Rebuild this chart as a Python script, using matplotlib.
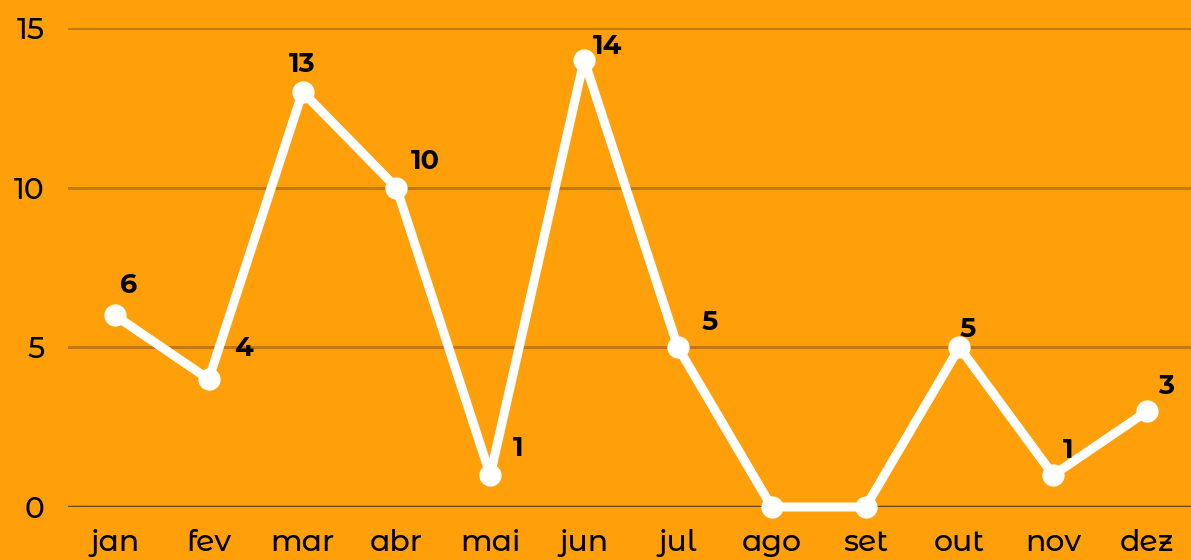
import matplotlib
matplotlib.use("Agg")
import matplotlib.pyplot as plt

# data
months = ["jan", "fev", "mar", "abr", "mai", "jun", "jul", "ago", "set", "out", "nov", "dez"]
values = [6, 4, 13, 10, 1, 14, 5, 0, 0, 5, 1, 3]
y_ticks = [0, 5, 10, 15]

# label offsets in points (right, up)
label_offsets = [(10, 22), (25, 22), (0, 20), (21, 19), (20, 19), (17, 10),
                 (23, 18), (0, 0), (0, 0), (6, 13), (11, 18), (14, 18)]

bg = "#FF9F0A"
plt.rcParams['font.family'] = ['Montserrat Alternates', 'DejaVu Sans']

fig = plt.figure(figsize=(11.91, 5.6), dpi=100, facecolor=bg)
ax = fig.add_axes([68 / 1191, 1 - 507 / 560, 1126 / 1191, (507 - 28) / 560])
ax.set_facecolor(bg)

x = list(range(len(months)))
ax.plot(x, values, color="white", lw=6.5, marker="o", markersize=15,
        solid_joinstyle="round", clip_on=False, zorder=3)

for i, v in enumerate(values):
    if v == 0:
        continue
    dx, dy = label_offsets[i]
    ax.annotate(str(v), (i, v), xytext=(dx, dy), textcoords="offset points",
                ha="center", va="center", fontsize=19.5, fontweight="bold",
                color="black", zorder=4)

ax.set_xlim(-0.5, len(months) - 0.5)
ax.set_ylim(0, 15)
ax.set_xticks(x)
ax.set_xticklabels(months)
ax.set_yticks(y_ticks)
ax.tick_params(axis="both", length=0, labelsize=21.5, colors="black")
for lab in ax.get_xticklabels() + ax.get_yticklabels():
    lab.set_fontweight(500)
ax.tick_params(axis="x", pad=16)
ax.tick_params(axis="y", pad=17)

for t in y_ticks[1:]:
    ax.axhline(t, color="#C07A10", lw=2.2, zorder=1)
ax.axhline(0, color="#6B4510", lw=2.5, zorder=2)

for s in ax.spines.values():
    s.set_visible(False)

fig.savefig("out.png", dpi=100, facecolor=bg)
